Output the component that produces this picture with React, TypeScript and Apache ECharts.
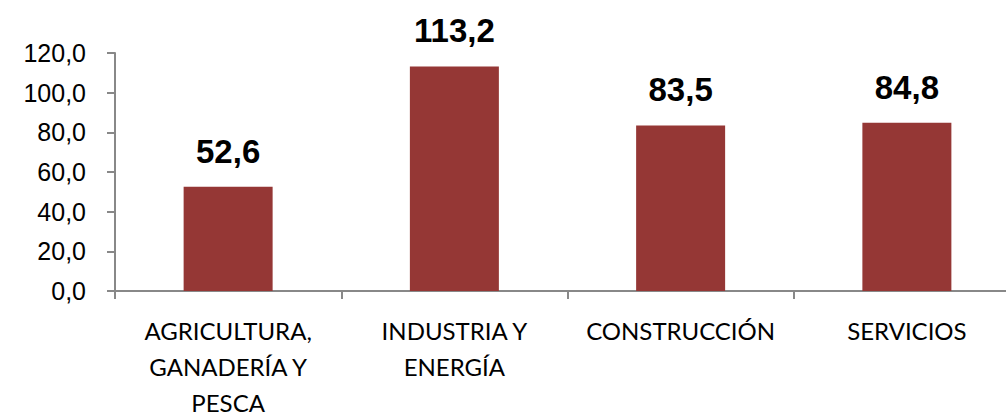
import React, { useEffect, useRef } from "react";
import * as echarts from "echarts";

const categories = [
  "AGRICULTURA,\nGANADERÍA Y\nPESCA",
  "INDUSTRIA Y\nENERGÍA",
  "CONSTRUCCIÓN",
  "SERVICIOS",
];
const values = [52.6, 113.2, 83.5, 84.8];
const yMin = 0;
const yMax = 120;
const yInterval = 20;

const fmt = (v: number) => v.toFixed(1).replace(".", ",");

export default function App() {
  const ref = useRef<HTMLDivElement>(null);
  useEffect(() => {
    document.body.style.margin = "0";
    const chart = echarts.init(ref.current!, null, { renderer: "svg" });
    chart.setOption({
      animation: false,
      backgroundColor: "#ffffff",
      grid: { left: 115, top: 53, bottom: 121, right: -14, outerBoundsMode: "none", containLabel: false },
      xAxis: {
        type: "category",
        data: categories,
        axisLine: { lineStyle: { color: "#888888", width: 2 } },
        axisTick: { show: true, length: 8, alignWithLabel: false, lineStyle: { color: "#888888", width: 2 } },
        axisLabel: {
          color: "#000000",
          fontFamily: "Lato, 'Liberation Sans', sans-serif",
          fontSize: 24,
          lineHeight: 36,
          margin: 21,
          interval: 0,
        },
      },
      yAxis: {
        type: "value",
        min: yMin,
        max: yMax,
        interval: yInterval,
        splitLine: { show: false },
        axisLine: { show: true, lineStyle: { color: "#888888", width: 2 } },
        axisTick: { show: true, length: 8, lineStyle: { color: "#888888", width: 2 } },
        axisLabel: {
          color: "#000000",
          fontFamily: "'Liberation Sans', sans-serif",
          fontSize: 25,
          margin: 29,
          formatter: (v: number) => fmt(v),
        },
      },
      series: [
        {
          type: "bar",
          data: values,
          barWidth: 89,
          itemStyle: { color: "#953735" },
          label: {
            show: true,
            position: "top",
            distance: 19,
            color: "#000000",
            fontFamily: "'Liberation Sans', sans-serif",
            fontWeight: "bold",
            fontSize: 33,
            formatter: (p: any) => fmt(p.value),
          },
        },
      ],
    });
    return () => chart.dispose();
  }, []);
  return <div ref={ref} style={{ width: 1006, height: 412 }} />;
}
